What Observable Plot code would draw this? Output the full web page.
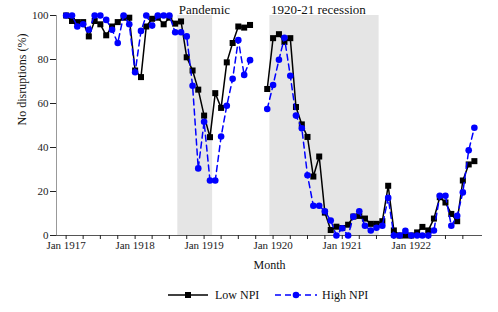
<!DOCTYPE html>
<html>
<head>
<meta charset="utf-8">
<script src="https://cdn.jsdelivr.net/npm/d3@7"></script>
<script src="https://cdn.jsdelivr.net/npm/@observablehq/plot@0.6"></script>
<style>
  body { margin: 0; background: white; font-family: "Liberation Serif", serif; }
  #legend { position: relative; width: 498px; height: 32px; font-size: 12px; color: #111; }
  #legend .sw { position: absolute; top: 9px; }
  #legend .lb { position: absolute; top: 8px; line-height: 15px; }
</style>
</head>
<body>
<div id="chart"></div>
<div id="legend">
  <svg class="sw" style="left:168px" width="40" height="12"><line x1="0" y1="6" x2="40" y2="6" stroke="black" stroke-width="1.5"/><rect x="17" y="3" width="6" height="6" fill="black"/></svg>
  <span class="lb" style="left:215px">Low NPI</span>
  <svg class="sw" style="left:275px" width="42" height="12"><line x1="0" y1="6" x2="42" y2="6" stroke="blue" stroke-width="1.5" stroke-dasharray="6,4"/><circle cx="21" cy="6" r="3.3" fill="blue"/></svg>
  <span class="lb" style="left:322px">High NPI</span>
</div>
<script>
const seriesNames = ["Low NPI", "High NPI"];
const lowNPI = [
  100, 97.5, 97, 97, 90.5, 97.5, 96, 91, 95, 97, 99, 99,
  75, 72, 95, 98.5, 99, 96, 99, 96.3, 97.3, 81, 75, 66.3,
  54.5, 44.7, 64.7, 58, 78.7, 87.5, 95, 94.5, 95.7, null, null, 66.6,
  89.7, 91.5, 88, 89.7, 58.4, 50.5, 44.8, 26.8, 35.9, 10.4, 2.5, 4,
  3.4, 4.9, 8.6, 8.9, 7.7, 5.3, 5.3, 6.5, 22.6, 2.3, 0, 0,
  0, 1.4, 3.9, 2.3, 7.7, 17.4, 15, 9.8, 6.5, 25, 32.3, 33.8
];
const highNPI = [
  100, 100, 95, 96, 93.5, 100, 100, 98, 93.5, 87.5, 100, 96,
  74.2, 93, 100, 95.4, 100, 100, 100, 92.4, 92.4, 90.5, 68.1, 30.5,
  51.7, 25, 25, 45, 59, 71.2, 88.8, 73, 79.7, null, null, 57.5,
  68.4, 79.9, 89.9, 72.6, 54.5, 48.7, 27.4, 13.5, 13.5, 11, 6.8, 0,
  3.3, 0, 8.6, 11, 4.4, 2.3, 3.5, 4.4, 17.1, 0, 0, 2.1,
  0, 0, 0, 0, 2.3, 18.1, 18.1, 4.4, 8.9, 19.6, 38.7, 49
];
const bandLabels = ["Pandemic", "1920-21 recession"];
const bandStarts = ["1918-08-15", "1919-12-15"];
const bandEnds = ["1919-02-15", "1921-07-15"];
const yTicks = [0, 20, 40, 60, 80, 100];
const yLabel = "No disruptions (%)";
const xLabel = "Month";

const months = d3.utcMonth.range(new Date(Date.UTC(1917, 0, 1)), new Date(Date.UTC(1923, 0, 1)));
const data = months.map((d, i) => ({date: d, low: lowNPI[i], high: highNPI[i]}));
const bands = bandLabels.map((l, i) => ({label: l, start: new Date(bandStarts[i]), end: new Date(bandEnds[i])}));
const xDomain = [new Date(Date.UTC(1916, 10, 11)), new Date(Date.UTC(1923, 0, 13))];
const xTicks = d3.utcMonth.every(3).range(new Date(Date.UTC(1917, 0, 1)), new Date(Date.UTC(1923, 0, 1)));

const chart = Plot.plot({
  width: 498, height: 280,
  marginLeft: 56, marginRight: 16, marginTop: 15, marginBottom: 45,
  style: {fontFamily: "Liberation Serif", fontSize: "11px", color: "#222", background: "white"},
  x: {type: "utc", domain: xDomain},
  y: {domain: [0, 100]},
  marks: [
    Plot.rect(bands, {x1: "start", x2: "end", y1: 0, y2: 100, fill: "#e5e5e5"}),
    Plot.text(bands, {x: "start", y: 100, text: "label", textAnchor: "start", dy: -6, dx: 1, fontSize: 13, fill: "#111"}),
    Plot.ruleX([xDomain[0]], {y1: 0, y2: 100, stroke: "#999"}),
    Plot.ruleY([0], {stroke: "#555"}),
    Plot.axisY({ticks: yTicks, tickSize: 6, tickPadding: 2, label: null, anchor: "left"}),
    Plot.axisX({ticks: xTicks, tickSize: 4, tickPadding: 2, label: null,
      tickFormat: d => d.getUTCMonth() === 0 ? `Jan ${d.getUTCFullYear()}` : ""}),
    Plot.text([yLabel], {text: d => d, frameAnchor: "left", rotate: -90, dx: -34, fontSize: 12, fill: "#111"}),
    Plot.text([xLabel], {text: d => d, frameAnchor: "bottom", dy: 33, fontSize: 12, fill: "#111"}),
    Plot.line(data, {x: "date", y: "low", stroke: "black", strokeWidth: 1.5}),
    Plot.dot(data, {x: "date", y: "low", symbol: "square", fill: "black", r: 3.4}),
    Plot.line(data, {x: "date", y: "high", stroke: "blue", strokeWidth: 1.5, strokeDasharray: "6,4"}),
    Plot.dot(data, {x: "date", y: "high", fill: "blue", r: 3.3})
  ]
});
document.getElementById("chart").appendChild(chart);
</script>
</body>
</html>
